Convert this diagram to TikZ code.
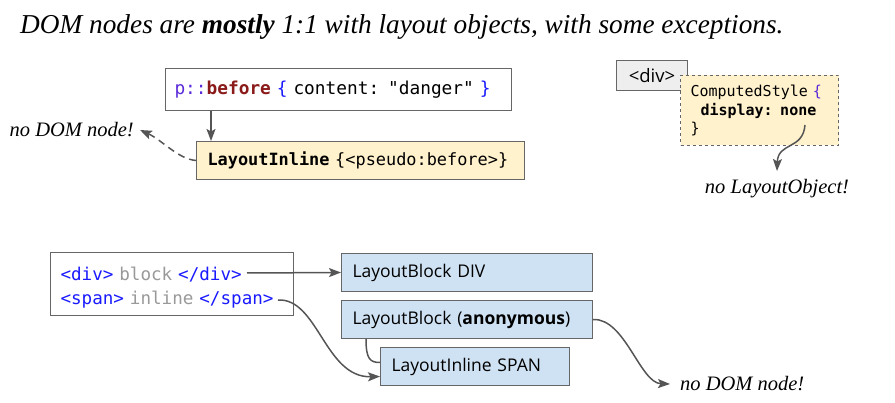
\documentclass[tikz,border=0pt]{standalone}
\usepackage{fontspec}
\setmainfont{Liberation Serif}
\setsansfont{Open Sans}
\setmonofont{DejaVu Sans Mono}
\usetikzlibrary{arrows.meta,positioning,calc}
\definecolor{dmline}{HTML}{555555}
\definecolor{dmedge}{HTML}{666666}
\definecolor{dmtag}{HTML}{1A1AFF}
\definecolor{dmtext}{HTML}{999999}
\definecolor{dmsel}{HTML}{5B2BD9}
\definecolor{dmprop}{HTML}{8B1A1A}
\definecolor{dmyellow}{HTML}{FFF2CC}
\definecolor{dmblue}{HTML}{CFE2F3}
\definecolor{dmpale}{HTML}{EEEEEE}

\begin{document}
\begin{tikzpicture}[
 x=1pt,y=-1pt,
 >={Stealth[length=12pt,width=9pt,inset=2.5pt]},
 box/.style={draw=dmedge,line width=1pt,anchor=north west,align=left,
   inner xsep=0pt,inner ysep=0pt},
 codebox/.style={box,font=\ttfamily\fontsize{17.6}{24}\selectfont},
 layoutbox/.style={box,fill=dmblue,minimum width=251pt,minimum height=38pt,
   text width=229pt,font=\sffamily\fontsize{17.5}{20}\selectfont},
 note/.style={font=\itshape\fontsize{20.5}{22}\selectfont,inner sep=2pt},
 flow/.style={->,line width=1.5pt,dmline}
]
\useasboundingbox (0,0) rectangle (895,403);
\node[anchor=west,inner sep=0pt,font=\itshape\fontsize{27.3}{30}\selectfont] (title) at (20,27)
 {DOM nodes are \textbf{mostly} 1:1 with layout objects, with some exceptions.};

% pseudo element
\node[codebox,fill=white,minimum width=346pt,minimum height=42pt,text width=328pt,
 font=\ttfamily\fontsize{17.8}{24}\selectfont] (pbox) at (165,68)
 {\textcolor{dmsel}{p::}\textcolor{dmprop}{\textbf{before}} \textcolor{dmtag}{\{} content: "danger" \textcolor{dmtag}{\}}};
\node[codebox,fill=dmyellow,minimum width=328pt,minimum height=38pt,text width=306pt,
 font=\ttfamily\fontsize{16.9}{24}\selectfont,
 below right=30pt and 31pt of pbox.south west] (li)
 {\textbf{LayoutInline} \{<pseudo:before>\}};
\node[note,anchor=east] (nodomA) at (136,130) {no DOM node!};
\draw[flow] ([xshift=46pt]pbox.south west) -- ([xshift=15pt]li.north west);
\draw[flow,dashed,dash pattern=on 7pt off 5pt] (li.west) .. controls (178,159) and (162,140) .. ([xshift=4pt]nodomA.east);

% display none
\node[box,fill=dmpale,minimum width=71pt,minimum height=30pt,align=center,
 font=\sffamily\fontsize{18.5}{20}\selectfont] (div) at (616,60) {<div>};
\node[codebox,fill=dmyellow,dashed,minimum width=158pt,minimum height=70pt,text width=138pt,
 font=\ttfamily\fontsize{15}{18.5}\selectfont] (cs) at (680,75)
 {ComputedStyle \textcolor{dmsel}{\{}\\\ \ \textbf{display: none}\\\}};
\node[note,anchor=north] (nolo) at (777,177) {no LayoutObject!};
\draw[flow] ($(cs.north west)+(125,50)$) .. controls (803,150) and (778,142) .. ([yshift=6pt]nolo.north);

% anonymous block
\node[codebox,fill=white,minimum width=243pt,minimum height=63pt,text width=223pt] (html) at (50,252)
 {\rule{0pt}{21pt}\textcolor{dmtag}{<div>} \textcolor{dmtext}{block} \textcolor{dmtag}{</div>}\\
  \textcolor{dmtag}{<span>} \textcolor{dmtext}{inline} \textcolor{dmtag}{</span>}};
\node[layoutbox] (db) at (341,253) {LayoutBlock DIV};
\node[layoutbox,below=8pt of db] (anon) {LayoutBlock (\textbf{anonymous})};
\node[layoutbox,minimum width=189pt,text width=167pt,
 below right=8pt and 39pt of anon.south west] (span) {LayoutInline SPAN};
\node[note,anchor=west] (nodomB) at (678,384) {no DOM node!};
\draw[flow] ($(html.north west)+(197,21)$) -- (db.west);
\draw[flow] ($(html.north west)+(228,48)$) .. controls (318,298) and (325,378) .. ([yshift=-10pt]span.west);
\draw[line width=1.5pt,dmline] ([xshift=25pt]anon.south west) .. controls +(0,20) and +(-10,0) .. ([yshift=4pt]span.west);
\draw[flow] (anon.east) .. controls (625,318) and (640,383) .. ([xshift=-8pt]nodomB.west);
\end{tikzpicture}
\end{document}
